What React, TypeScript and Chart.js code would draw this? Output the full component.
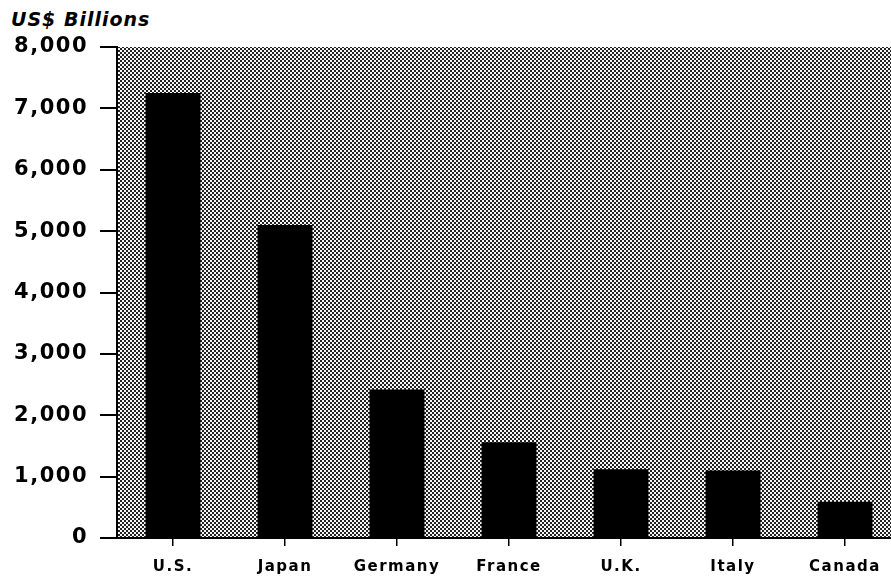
import React, { useEffect, useRef } from "react";
import { Chart, registerables } from "chart.js";

Chart.register(...registerables);

const titleText = "US$ Billions";
const categories = ["U.S.", "Japan", "Germany", "France", "U.K.", "Italy", "Canada"];
const gdpValues = [7250, 5100, 2420, 1560, 1120, 1100, 590];
const yMin = 0;
const yMax = 8000;
const yStep = 1000;

function makePattern(ctx: CanvasRenderingContext2D) {
  const c = document.createElement("canvas");
  c.width = 4;
  c.height = 4;
  const p = c.getContext("2d")!;
  p.fillStyle = "#f6f6f6";
  p.fillRect(0, 0, 4, 4);
  p.fillStyle = "#222222";
  p.fillRect(0, 0, 2, 2);
  p.fillRect(2, 2, 2, 2);
  return ctx.createPattern(c, "repeat");
}

const bgPlugin = {
  id: "ditherBg",
  beforeLayout(chart: any) {
    (chart.ctx as any).letterSpacing = "1.5px";
  },
  beforeDraw(chart: any) {
    const { ctx, chartArea } = chart;
    (ctx as any).letterSpacing = "1.5px";
    ctx.save();
    const pat = makePattern(ctx);
    if (pat) ctx.fillStyle = pat;
    ctx.fillRect(chartArea.left, chartArea.top, chartArea.right - chartArea.left, chartArea.bottom - chartArea.top);
    ctx.restore();
  },
};

export default function App() {
  const ref = useRef<HTMLCanvasElement | null>(null);

  useEffect(() => {
    if (!ref.current) return;
    const chart = new Chart(ref.current, {
      type: "bar",
      data: {
        labels: categories,
        datasets: [
          {
            data: gdpValues,
            backgroundColor: "#000000",
            borderWidth: 0,
            categoryPercentage: 1,
            barPercentage: 0.49,
          },
        ],
      },
      options: {
        responsive: false,
        animation: false,
        layout: { padding: { top: 47, left: 0, right: 0, bottom: 0 } },
        plugins: {
          legend: { display: false },
          tooltip: { enabled: false },
          title: { display: false },
        },
        scales: {
          x: {
            offset: true,
            grid: {
              display: true,
              drawOnChartArea: false,
              drawTicks: true,
              tickLength: 8,
              offset: false,
              color: "#000000",
              lineWidth: 1.5,
            },
            border: { display: true, color: "#000000", width: 2 },
            ticks: {
              color: "#000000",
              padding: 12,
              font: { family: "DejaVu Sans", weight: "bold", size: 15 },
              maxRotation: 0,
              autoSkip: false,
            },
            afterFit(scale: any) {
              scale.height = 38;
            },
          },
          y: {
            min: yMin,
            max: yMax,
            grid: {
              display: true,
              drawOnChartArea: false,
              drawTicks: true,
              tickLength: 17,
              color: "#000000",
              lineWidth: 2,
            },
            border: { display: true, color: "#000000", width: 2 },
            ticks: {
              stepSize: yStep,
              color: "#000000",
              padding: 12,
              font: { family: "DejaVu Sans", weight: "bold", size: 21 },
              callback: (v: any) => Number(v).toLocaleString("en-US"),
            },
            afterFit(scale: any) {
              scale.width = 117;
            },
          },
        },
      },
      plugins: [bgPlugin],
    });
    return () => chart.destroy();
  }, []);

  return (
    <div
      style={{
        position: "fixed",
        left: 0,
        top: 0,
        width: 891,
        height: 576,
        overflow: "hidden",
        background: "#ffffff",
      }}
    >
      <div
        style={{
          position: "absolute",
          left: 11,
          top: 8,
          fontFamily: "DejaVu Sans",
          fontWeight: "bold",
          fontStyle: "italic",
          fontSize: 19,
          letterSpacing: "1px",
          color: "#000",
          lineHeight: "22px",
        }}
      >
        {titleText}
      </div>
      <canvas ref={ref} width={901} height={576} style={{ position: "absolute", left: 0, top: 0 }} />
    </div>
  );
}
